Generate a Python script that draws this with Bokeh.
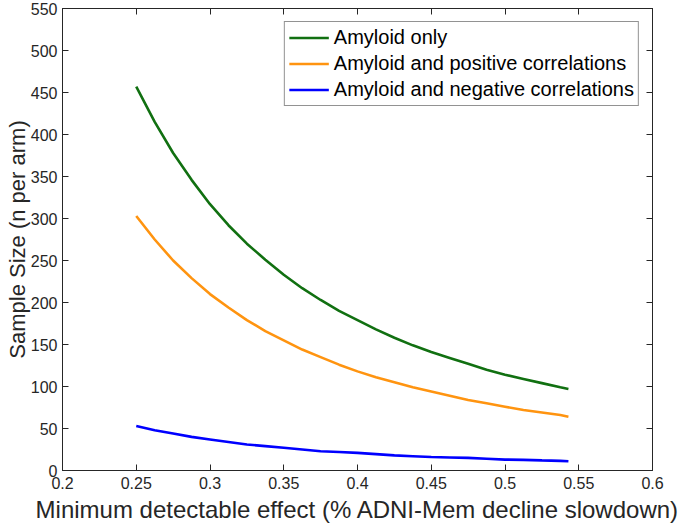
from bokeh.plotting import figure
from bokeh.models import LinearAxis, Range1d, FixedTicker, Legend, LegendItem
from bokeh.embed import file_html
from bokeh.resources import INLINE

# Data
effect = [0.25, 0.2625, 0.275, 0.2875, 0.3, 0.3125, 0.325, 0.3375, 0.35, 0.3625, 0.375, 0.3875,
          0.4, 0.4125, 0.425, 0.4375, 0.45, 0.4625, 0.475, 0.4875, 0.5, 0.5125, 0.525, 0.5375, 0.543]
amyloid_only = [457, 415, 378, 346, 317, 292, 270, 251, 233, 217, 203, 190,
                179, 168, 158, 149, 141, 134, 127, 120, 114, 109, 104, 99, 97]
amyloid_pos = [303, 275, 250, 229, 210, 194, 179, 166, 155, 144, 135, 126,
               118, 111, 105, 99, 94, 89, 84, 80, 76, 72, 69, 66, 64]
amyloid_neg = [53, 48, 44, 40, 37, 34, 31, 29, 27, 25, 23, 22,
               21, 19.5, 18, 17, 16, 15.5, 15, 14, 13, 12.6, 12, 11.5, 11]

x_ticks = [0.2, 0.25, 0.3, 0.35, 0.4, 0.45, 0.5, 0.55, 0.6]
y_ticks = [0, 50, 100, 150, 200, 250, 300, 350, 400, 450, 500, 550]
x_label = "Minimum detectable effect (% ADNI-Mem decline slowdown)"
y_label = "Sample Size (n per arm)"
series_names = ["Amyloid only", "Amyloid and positive correlations", "Amyloid and negative correlations"]
series_colors = ["#117011", "#FF9410", "#0000FF"]

FONT = "Liberation Sans"
AX = "#262626"

p = figure(width=685, height=527, output_backend="svg", toolbar_location=None,
           x_range=Range1d(0.2, 0.6), y_range=Range1d(0, 550),
           min_border_top=8, min_border_right=33, min_border_left=62, min_border_bottom=57)
p.xgrid.visible = False
p.ygrid.visible = False
p.outline_line_color = AX
p.outline_line_width = 1
p.background_fill_color = "white"
p.border_fill_color = "white"

xa = p.xaxis[0]
ya = p.yaxis[0]
for ax, t in ((xa, x_ticks), (ya, y_ticks)):
    ax.ticker = FixedTicker(ticks=t)
    ax.axis_line_color = AX
    ax.major_tick_line_color = AX
    ax.major_tick_in = 6
    ax.major_tick_out = 0
    ax.minor_tick_line_color = None
    ax.major_label_text_font = FONT
    ax.major_label_text_color = AX
    ax.major_label_text_font_size = "16px"
    ax.axis_label_text_font = FONT
    ax.axis_label_text_color = AX
    ax.axis_label_text_font_style = "normal"
xa.axis_label = x_label
ya.axis_label = y_label
xa.axis_label_text_font_size = "24px"
ya.axis_label_text_font_size = "22px"
xa.major_label_standoff = 6
ya.major_label_standoff = 5
xa.axis_label_standoff = 4
ya.axis_label_standoff = -2

top = LinearAxis(ticker=FixedTicker(ticks=x_ticks))
right = LinearAxis(ticker=FixedTicker(ticks=y_ticks))
for ax in (top, right):
    ax.axis_line_color = AX
    ax.major_tick_line_color = AX
    ax.major_tick_in = 6
    ax.major_tick_out = 0
    ax.minor_tick_line_color = None
    ax.major_label_text_font_size = "1px"
    ax.major_label_text_color = None
    ax.major_label_standoff = 0
p.add_layout(top, "above")
p.add_layout(right, "right")

renderers = []
for ys, c in zip([amyloid_only, amyloid_pos, amyloid_neg], series_colors):
    r = p.line(effect, ys, line_color=c, line_width=2.6)
    renderers.append(r)

legend = Legend(items=[LegendItem(label=n, renderers=[r]) for n, r in zip(series_names, renderers)],
                location="top_right")
legend.label_text_font = FONT
legend.label_text_font_size = "20px"
legend.label_text_color = "#000000"
legend.border_line_color = "#262626"
legend.border_line_width = 1
legend.background_fill_alpha = 1
legend.margin = 13
legend.padding = 4
legend.spacing = 3
legend.glyph_width = 40
legend.glyph_height = 21
legend.label_height = 21
legend.label_standoff = 5
p.add_layout(legend, "center")

open("out.html", "w").write(file_html(p, INLINE))
